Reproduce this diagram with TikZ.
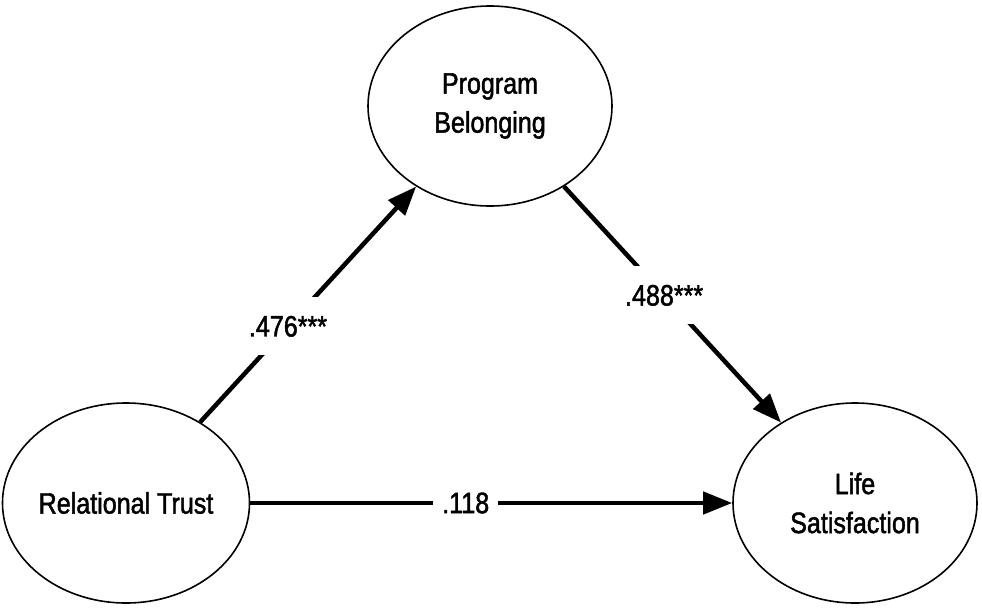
\documentclass[tikz,border=0pt]{standalone}
\usepackage{fontspec}
\setmainfont{Liberation Sans}[FakeStretch=0.85,FakeBold=1.6]
\usetikzlibrary{shapes.geometric,arrows.meta,calc}
\begin{document}
\begin{tikzpicture}[x=1pt,y=-1pt,
  latent/.style={ellipse,draw,line width=1.6pt,minimum width=244pt,minimum height=200pt,inner sep=0pt,align=center,font=\fontsize{29.5}{39}\selectfont},
  effect/.style={line width=4.5pt,-{Triangle[length=29pt,width=22pt]}},
  coef/.style={fill=white,inner xsep=9pt,inner ysep=0pt,minimum height=58pt,font=\fontsize{29.5}{35}\selectfont}]
\useasboundingbox (0,0) rectangle (982,611);
\node[latent] (pb) at (490,106) {Program\\Belonging};
\node[latent] (rt) at (126,503) {Relational Trust};
\node[latent] (ls) at (855,503) {Life\\Satisfaction};
\draw[effect] (rt) -- (pb);
\draw[effect] (pb) -- (ls);
\draw[effect] (rt) -- (ls);
\node[coef] (c1) at ($(rt)!0.445!(pb)$) {.476***};
\node[coef] (c2) at ($(pb)!0.477!(ls)$) {.488***};
\node[coef] (c3) at ($(rt)!0.466!(ls)$) {.118};
\end{tikzpicture}
\end{document}
